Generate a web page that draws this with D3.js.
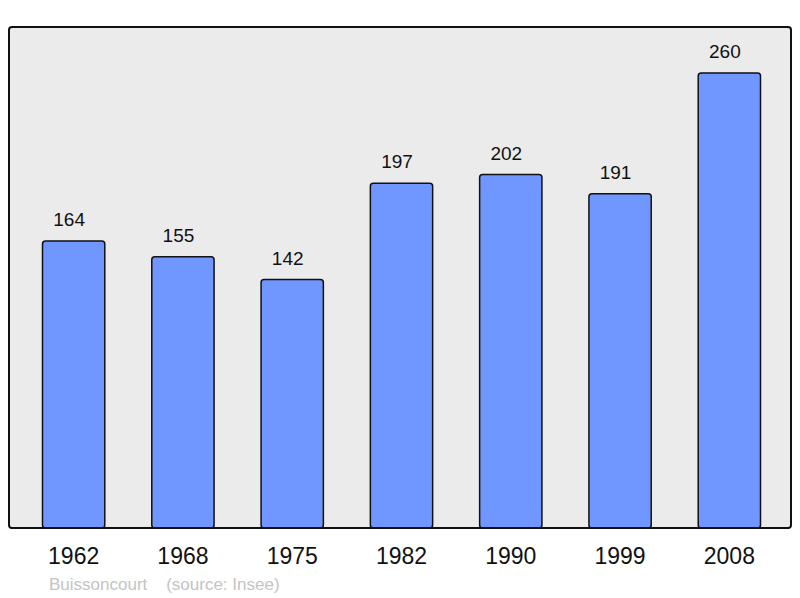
<!DOCTYPE html>
<html><head><meta charset="utf-8">
<script src="https://cdn.jsdelivr.net/npm/d3@7"></script>
<style>body{margin:0;background:#fff}svg{display:block}</style>
</head><body>
<script>
const years = ["1962","1968","1975","1982","1990","1999","2008"];
const population = [164,155,142,197,202,191,260];
const footerText = "Buissoncourt    (source: Insee)";

const W = 800, H = 598;
const svg = d3.select("body").append("svg").attr("width", W).attr("height", H);
const frame = {x0: 9, y0: 27, x1: 791, y1: 528};

svg.append("rect").attr("x", frame.x0).attr("y", frame.y0)
  .attr("width", frame.x1 - frame.x0).attr("height", frame.y1 - frame.y0)
  .attr("rx", 3).attr("fill", "#ebebeb").attr("stroke", "#111").attr("stroke-width", 2);

const x = d3.scaleBand().domain(years).range([19, 784]).paddingInner(0.43).paddingOuter(0.215);
const y = d3.scaleLinear().domain([0, 286.3]).range([frame.y1, frame.y0]);

svg.selectAll("rect.bar").data(years).join("rect").attr("class","bar")
  .attr("x", d => x(d)).attr("width", x.bandwidth())
  .attr("y", (d,i) => y(population[i])).attr("height", (d,i) => frame.y1 - y(population[i]))
  .attr("rx", 3).attr("fill", "#7096ff").attr("stroke", "#111").attr("stroke-width", 1.5);

// redraw bottom frame line over bars
svg.append("line").attr("x1", frame.x0 + 2).attr("x2", frame.x1 - 2)
  .attr("y1", frame.y1).attr("y2", frame.y1).attr("stroke", "#111").attr("stroke-width", 2);

svg.selectAll("text.val").data(years).join("text").attr("class","val")
  .attr("x", d => x(d) + x.bandwidth()/2 - 4.5).attr("y", (d,i) => y(population[i]) - 15)
  .attr("text-anchor","middle").attr("font-family","Liberation Sans, Arial, sans-serif")
  .attr("font-size", 19).attr("fill","#111").text((d,i) => population[i]);

const xAxis = svg.append("g").attr("transform", `translate(0,${frame.y1})`)
  .call(d3.axisBottom(x).tickSize(0).tickPadding(36));
xAxis.select(".domain").remove();
xAxis.selectAll("text").attr("font-family","Liberation Sans, Arial, sans-serif")
  .attr("font-size", 23).attr("fill","#111").attr("dy", 0);

svg.append("text").attr("x", 49).attr("y", 590).attr("xml:space","preserve")
  .style("white-space","pre")
  .attr("font-family","Liberation Sans, Arial, sans-serif").attr("font-size", 17)
  .attr("fill","#c4c4c4").text(footerText);
</script>
</body></html>
